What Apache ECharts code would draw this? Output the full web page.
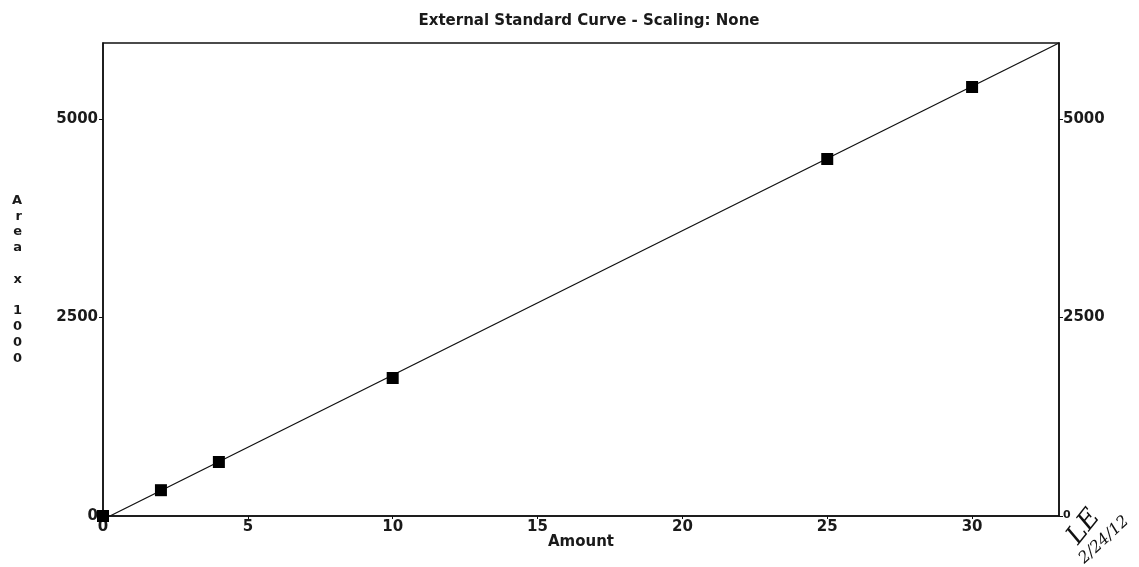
<!DOCTYPE html>
<html>
<head>
<meta charset="utf-8">
<script src="https://cdn.jsdelivr.net/npm/echarts@6/dist/echarts.min.js"></script>
<style>
html,body{margin:0;padding:0;background:#fff;}
#chart{width:1139px;height:567px;}
</style>
</head>
<body>
<div id="chart"></div>
<script>
var titleText = 'External Standard Curve - Scaling: None';
var xAxisName = 'Amount';
var yAxisName = 'A\nr\ne\na\n\nx\n\n1\n0\n0\n0';
var amounts = [0, 2, 4, 10, 25, 30];
var areas = [0, 325, 680, 1738, 4496, 5403];
var fitAmounts = [0.24, 33];
var fitAreas = [0, 5957];
var xTicks = [0, 5, 10, 15, 20, 25, 30];
var yTicks = [0, 2500, 5000];
var signature1 = 'LE';
var signature2 = '2/24/12';

var font = 'DejaVu Sans';
var chart = echarts.init(document.getElementById('chart'));
var pts = amounts.map(function (a, i) { return [a, areas[i]]; });
var fit = fitAmounts.map(function (a, i) { return [a, fitAreas[i]]; });
var plain = function (v) { return String(v); };

chart.setOption({
  animation: false,
  backgroundColor: '#fff',
  title: {
    text: titleText,
    left: 584, top: 9, textAlign: 'center',
    textStyle: {fontFamily: font, fontSize: 15, fontWeight: 'bold', color: '#1a1a1a'}
  },
  grid: {left: 103, right: 80, top: 43, bottom: 51, show: true, borderColor: '#111', borderWidth: 1.5},
  xAxis: {
    type: 'value', min: 0, max: 33, interval: 5,
    name: xAxisName, nameLocation: 'middle', nameGap: 19, nameMoveOverlap: false,
    nameTextStyle: {fontFamily: font, fontSize: 15, fontWeight: 'bold', color: '#1a1a1a'},
    axisLine: {show: true, onZero: false, lineStyle: {color: '#111', width: 1.5}},
    axisTick: {show: true, inside: false, length: 3, customValues: xTicks, lineStyle: {color: '#111'}},
    axisLabel: {fontFamily: font, fontSize: 15, fontWeight: 'bold', color: '#1a1a1a', margin: 4,
      customValues: xTicks, formatter: plain},
    splitLine: {show: false}
  },
  yAxis: [{
    type: 'value', min: 0, max: 5957, interval: 2500,
    name: yAxisName, nameLocation: 'middle', nameGap: 81, nameRotate: 0, nameMoveOverlap: false,
    nameTextStyle: {fontFamily: font, fontSize: 13, color: '#1a1a1a', lineHeight: 15.8, fontWeight: 'bold'},
    axisLine: {show: true, lineStyle: {color: '#111', width: 1.5}},
    axisTick: {show: true, length: 4, customValues: yTicks, lineStyle: {color: '#111'}},
    axisLabel: {fontFamily: font, fontSize: 15, fontWeight: 'bold', color: '#1a1a1a', margin: 5,
      customValues: yTicks, formatter: plain},
    splitLine: {show: false}
  }, {
    type: 'value', min: 0, max: 5957, interval: 2500, position: 'right',
    axisLine: {show: true, lineStyle: {color: '#111', width: 1.5}},
    axisTick: {show: true, length: 4, customValues: yTicks, lineStyle: {color: '#111'}},
    axisLabel: {fontFamily: font, fontSize: 15, fontWeight: 'bold', color: '#1a1a1a', margin: 4,
      customValues: yTicks,
      formatter: function (v) { return v === 0 ? '{s|0}' : String(v); },
      rich: {s: {fontFamily: font, fontSize: 11, color: '#1a1a1a', padding: [0, 0, 2, 0]}}},
    splitLine: {show: false}
  }],
  series: [{
    type: 'line', data: fit, symbol: 'none', z: 2,
    lineStyle: {color: '#111', width: 1.3}
  }, {
    type: 'scatter', data: pts, symbol: 'rect', symbolSize: 12, z: 3,
    itemStyle: {color: '#000', opacity: 1}
  }],
  graphic: [{
    type: 'text', x: 1084, y: 527, rotation: 0.9,
    style: {text: signature1, fontFamily: 'DejaVu Serif', fontStyle: 'italic', fontSize: 26, fill: '#111', align: 'center', verticalAlign: 'middle'}
  }, {
    type: 'text', x: 1104, y: 540, rotation: 0.75,
    style: {text: signature2, fontFamily: 'DejaVu Serif', fontStyle: 'italic', fontSize: 16, fill: '#111', align: 'center', verticalAlign: 'middle'}
  }]
});
</script>
</body>
</html>
